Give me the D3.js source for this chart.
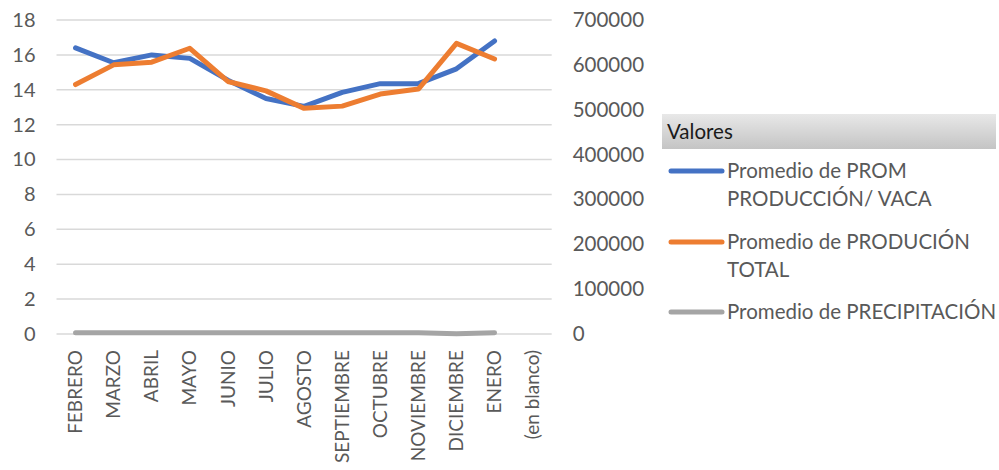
<!DOCTYPE html>
<html><head><meta charset="utf-8">
<script src="https://cdn.jsdelivr.net/npm/d3@7"></script>
<style>body{margin:0;background:#fff;} text{font-family:Lato,"Open Sans",sans-serif;}</style>
</head><body><svg id="c" width="999" height="470"></svg>
<script>
const categories = ["FEBRERO","MARZO","ABRIL","MAYO","JUNIO","JULIO","AGOSTO","SEPTIEMBRE","OCTUBRE","NOVIEMBRE","DICIEMBRE","ENERO","(en blanco)"];
const promVaca = [16.4,15.55,16.0,15.8,14.55,13.5,13.05,13.85,14.35,14.35,15.2,16.8,null];
const prodTotal = [556000,600000,606000,637000,563000,542000,503000,508000,535000,546000,648000,613000,null];
const precipitacion = [0.07,0.07,0.07,0.07,0.07,0.07,0.07,0.07,0.07,0.07,0.02,0.07,null];
const leftTicks = [0,2,4,6,8,10,12,14,16,18];
const rightTicks = [0,100000,200000,300000,400000,500000,600000,700000];
const legendTitle = "Valores";
const seriesNames = [["Promedio de PROM","PRODUCCIÓN/ VACA"],["Promedio de PRODUCIÓN","TOTAL"],["Promedio de PRECIPITACIÓN"]];
const colors = ["#4472C4","#ED7D31","#A5A5A5"];

const svg = d3.select("#c");
const x0 = 56.5, x1 = 551.7, yTop = 20, yBot = 334;
const x = d3.scaleBand().domain(categories).range([x0,x1]);
const yL = d3.scaleLinear().domain([0,18]).range([yBot,yTop]);
const yR = d3.scaleLinear().domain([0,700000]).range([yBot,yTop]);

// gridlines
svg.append("g").selectAll("line").data(leftTicks).join("line")
  .attr("x1",x0).attr("x2",x1).attr("y1",d=>yL(d)).attr("y2",d=>yL(d))
  .attr("stroke","#D9D9D9").attr("stroke-width",1.5);

// left axis
const la = svg.append("g").attr("transform",`translate(${x0},0)`)
  .call(d3.axisLeft(yL).tickValues(leftTicks).tickSize(0).tickPadding(21));
la.select(".domain").remove();
la.selectAll("text").attr("fill","#595959").style("font-size","20px").style("font-family","Lato");

// right axis
const ra = svg.append("g").attr("transform",`translate(${x1},0)`)
  .call(d3.axisRight(yR).tickValues(rightTicks).tickSize(0).tickPadding(21).tickFormat(d3.format("d")));
ra.select(".domain").remove();
ra.selectAll("text").attr("fill","#595959").style("font-size","20.5px").style("font-family","Lato");

// x axis
const xa = svg.append("g").attr("transform",`translate(0,${yBot})`)
  .call(d3.axisBottom(x).tickSize(0));
xa.select(".domain").remove();
xa.selectAll("text").attr("fill","#595959").style("font-size","19px").style("font-family","Lato")
  .attr("transform","rotate(-90)").attr("text-anchor","end")
  .attr("x",-16).attr("y",0).attr("dy","0.35em");

// lines
const mk = (ys, vals) => d3.line().defined(d=>d!=null)
  .x((d,i)=>x(categories[i])+x.bandwidth()/2).y(d=>ys(d))(vals);
const lineG = svg.append("g").attr("fill","none").attr("stroke-width",5)
  .attr("stroke-linejoin","round").attr("stroke-linecap","round");
lineG.append("path").attr("d",mk(yL,precipitacion)).attr("stroke",colors[2]);
lineG.append("path").attr("d",mk(yL,promVaca)).attr("stroke",colors[0]);
lineG.append("path").attr("d",mk(yR,prodTotal)).attr("stroke",colors[1]);

// legend
const defs = svg.append("defs");
const gr = defs.append("linearGradient").attr("id","lg").attr("x1",0).attr("x2",0).attr("y1",0).attr("y2",1);
gr.append("stop").attr("offset","0%").attr("stop-color","#E8E8E8");
gr.append("stop").attr("offset","100%").attr("stop-color","#C4C4C4");
svg.append("rect").attr("x",662).attr("y",114).attr("width",334).attr("height",35).attr("fill","url(#lg)");
svg.append("text").attr("x",667).attr("y",139).text(legendTitle).attr("fill","#1a1a1a").style("font-size","20.5px");

const legY = [171,242,312];
seriesNames.forEach((lines,i)=>{
  svg.append("line").attr("x1",671).attr("x2",722).attr("y1",legY[i]).attr("y2",legY[i])
    .attr("stroke",colors[i]).attr("stroke-width",5).attr("stroke-linecap","round");
  const t = svg.append("text").attr("x",727).attr("y",legY[i])
    .attr("fill","#595959").style("font-size","20.5px");
  lines.forEach((s,j)=>t.append("tspan").attr("x",727).attr("dy",j===0?"0.35em":"28px").text(s));
});
</script></body></html>
